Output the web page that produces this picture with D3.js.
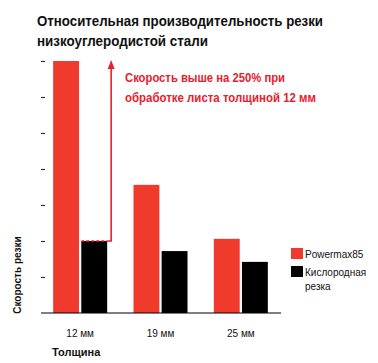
<!DOCTYPE html>
<html><head><meta charset="utf-8">
<script src="https://cdn.jsdelivr.net/npm/d3@7"></script>
<style>body{margin:0;background:#fff}svg{display:block}</style>
</head><body>
<script>
const categories = ["12 мм", "19 мм", "25 мм"];
const seriesNames = ["Powermax85", "Кислородная резка"];
const powermax = [7, 3.56, 2.06];
const oxyfuel = [2, 1.72, 1.42];
const yTicks = [1, 2, 3, 4, 5, 6, 7];
const titleLines = ["Относительная производительность резки", "низкоуглеродистой стали"];
const noteLines = ["Скорость выше на 250% при", "обработке листа толщиной 12 мм"];

const W = 378, H = 363;
const RED = "#ef3a2c", ARED = "#e8202e";
const svg = d3.select("body").append("svg").attr("width", W).attr("height", H);

const x = d3.scaleBand().domain(categories).range([40, 281]).padding(0);
const xs = d3.scaleBand().domain([0, 1]).range([0, 54]).paddingInner(0.08);
const y = d3.scaleLinear().domain([0, 7]).range([313, 61]);

// title
const titleW = [286, 171];
svg.append("g").selectAll("text").data(titleLines).join("text")
  .attr("x", 37).attr("y", (d, i) => 26 + i * 20)
  .attr("font-family", "Liberation Sans, sans-serif")
  .attr("font-weight", "bold").attr("font-size", 15).attr("fill", "#111")
  .attr("textLength", (d, i) => titleW[i]).attr("lengthAdjust", "spacingAndGlyphs")
  .text(d => d);

// bars
const data = categories.map((c, i) => ({c, vals: [powermax[i], oxyfuel[i]]}));
const g = svg.append("g").selectAll("g").data(data).join("g")
  .attr("transform", d => `translate(${x(d.c) + x.bandwidth() / 2 - 27},0)`);
g.selectAll("rect").data(d => d.vals.map((v, k) => ({v, k}))).join("rect")
  .attr("x", d => xs(d.k)).attr("width", xs.bandwidth())
  .attr("y", d => y(d.v)).attr("height", d => y(0) - y(d.v))
  .attr("fill", d => d.k === 0 ? RED : "#000");

// y ticks
const yAxis = d3.axisLeft(y).tickValues(yTicks).tickSize(4).tickFormat("");
const ya = svg.append("g").attr("transform", "translate(45,0)").call(yAxis);
ya.select(".domain").remove();
ya.selectAll("line").attr("stroke", "#333").attr("stroke-width", 1.2);

// baseline
svg.append("line").attr("x1", 41).attr("x2", 281).attr("y1", y(0)).attr("y2", y(0))
  .attr("stroke", "#000").attr("stroke-width", 1.2);

// x labels
const xAxis = d3.axisBottom(x).tickSize(0).tickPadding(0);
const xa = svg.append("g").attr("transform", `translate(0,${y(0)})`).call(xAxis);
xa.select(".domain").remove();
xa.selectAll("text").attr("y", 24).attr("dy", 0)
  .attr("font-family", "Liberation Sans, Arial, sans-serif").attr("font-size", 10).attr("fill", "#111");

svg.append("text").attr("x", 52).attr("y", 356)
  .attr("font-family", "Liberation Sans, Arial, sans-serif").attr("font-weight", "bold")
  .attr("font-size", 11).attr("fill", "#111").text("Толщина");

svg.append("text").attr("transform", "translate(21,275) rotate(-90)")
  .attr("text-anchor", "middle")
  .attr("font-family", "Liberation Sans, Arial, sans-serif").attr("font-weight", "bold")
  .attr("font-size", 10).attr("fill", "#111").text("Скорость резки");

// annotation arrow
const bx0 = x(categories[0]) + x.bandwidth() / 2 - 27;
const blackL = bx0 + xs(1), blackR = blackL + xs.bandwidth();
const ax = blackR + 4;
svg.append("line").attr("x1", blackL).attr("x2", blackR).attr("y1", y(oxyfuel[0])).attr("y2", y(oxyfuel[0]))
  .attr("stroke", ARED).attr("stroke-width", 1.5).attr("stroke-dasharray", "3,2");
svg.append("path")
  .attr("d", `M${blackR},${y(oxyfuel[0])} H${ax} V${y(powermax[0]) + 6}`)
  .attr("fill", "none").attr("stroke", ARED).attr("stroke-width", 1.6);
svg.append("path")
  .attr("d", `M${ax - 3.5},${y(powermax[0]) + 8} L${ax},${y(powermax[0]) - 1} L${ax + 3.5},${y(powermax[0]) + 8} Z`)
  .attr("fill", ARED);

const noteW = [160, 191];
svg.append("g").selectAll("text").data(noteLines).join("text")
  .attr("x", 125).attr("y", (d, i) => 82 + i * 20)
  .attr("font-family", "Liberation Sans, sans-serif")
  .attr("font-weight", "bold").attr("font-size", 13).attr("fill", ARED)
  .attr("textLength", (d, i) => noteW[i]).attr("lengthAdjust", "spacingAndGlyphs")
  .text(d => d);

// legend
const leg = svg.append("g");
leg.append("rect").attr("x", 291).attr("y", 248).attr("width", 12).attr("height", 11).attr("fill", RED);
leg.append("rect").attr("x", 291).attr("y", 266).attr("width", 12).attr("height", 11).attr("fill", "#000");
const lt = {"font-family": "Liberation Sans, Arial, sans-serif", "font-size": 10, "fill": "#111"};
function T(tx, ty, s) { const t = leg.append("text").attr("x", tx).attr("y", ty).text(s); for (const k in lt) t.attr(k, lt[k]); }
T(305, 258, seriesNames[0]);
T(305, 276, "Кислородная");
T(305, 290, "резка");
</script>
</body></html>
